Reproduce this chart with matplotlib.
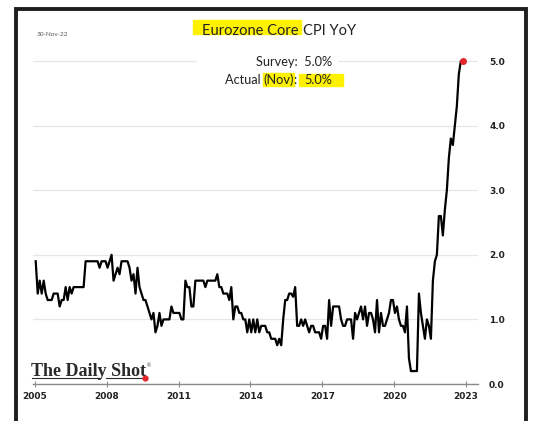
import matplotlib
matplotlib.use('Agg')
import matplotlib.pyplot as plt
from matplotlib.patches import Rectangle
from matplotlib.lines import Line2D
import numpy as np

# Eurozone core CPI YoY, monthly, Jan-2005 .. Nov-2022
y2005 = [1.9, 1.4, 1.6, 1.4, 1.6, 1.4, 1.3, 1.3, 1.3, 1.4, 1.4, 1.4]
y2006 = [1.2, 1.3, 1.3, 1.5, 1.3, 1.5, 1.4, 1.5, 1.5, 1.5, 1.5, 1.5]
y2007 = [1.5, 1.9, 1.9, 1.9, 1.9, 1.9, 1.9, 1.9, 1.8, 1.9, 1.9, 1.9]
y2008 = [1.8, 1.9, 2.0, 1.6, 1.7, 1.8, 1.7, 1.9, 1.9, 1.9, 1.9, 1.8]
y2009 = [1.6, 1.7, 1.4, 1.8, 1.5, 1.4, 1.3, 1.3, 1.2, 1.1, 1.0, 1.1]
y2010 = [0.8, 0.9, 1.1, 0.9, 1.0, 1.0, 1.0, 1.0, 1.2, 1.1, 1.1, 1.1]
y2011 = [1.1, 1.0, 1.0, 1.6, 1.5, 1.5, 1.2, 1.2, 1.6, 1.6, 1.6, 1.6]
y2012 = [1.6, 1.5, 1.6, 1.6, 1.6, 1.6, 1.6, 1.7, 1.5, 1.5, 1.4, 1.4]
y2013 = [1.4, 1.3, 1.5, 1.0, 1.2, 1.2, 1.1, 1.1, 1.0, 1.0, 0.8, 1.0]
y2014 = [0.8, 1.0, 0.8, 1.0, 0.8, 0.9, 0.9, 0.9, 0.8, 0.8, 0.7, 0.7]
y2015 = [0.7, 0.6, 0.7, 0.6, 1.0, 1.3, 1.3, 1.4, 1.4, 1.35, 1.5, 0.9]
y2016 = [0.9, 1.0, 0.9, 1.0, 0.9, 0.8, 0.9, 0.9, 0.8, 0.8, 0.8, 0.7]
y2017 = [0.9, 0.9, 0.7, 1.3, 0.9, 1.2, 1.2, 1.2, 1.2, 1.0, 0.9, 0.9]
y2018 = [1.0, 1.0, 1.0, 0.7, 1.1, 1.0, 1.1, 1.2, 1.0, 1.2, 0.9, 1.1]
y2019 = [1.1, 1.0, 0.8, 1.3, 0.8, 1.1, 0.9, 0.9, 1.0, 1.1, 1.3, 1.3]
y2020 = [1.1, 1.2, 1.0, 0.9, 0.9, 0.8, 1.2, 0.4, 0.2, 0.2, 0.2, 0.2]
y2021 = [1.4, 1.1, 0.9, 0.7, 1.0, 0.9, 0.7, 1.6, 1.9, 2.0, 2.6, 2.6]
y2022 = [2.3, 2.7, 3.0, 3.5, 3.8, 3.7, 4.0, 4.3, 4.8, 5.0, 5.0]

core_cpi = (y2005 + y2006 + y2007 + y2008 + y2009 + y2010 + y2011 + y2012 + y2013
            + y2014 + y2015 + y2016 + y2017 + y2018 + y2019 + y2020 + y2021 + y2022)
start_year = 2005
year_ticks = [2005, 2008, 2011, 2014, 2017, 2020, 2023]
value_ticks = [0.0, 1.0, 2.0, 3.0, 4.0, 5.0]

x = start_year + (np.arange(len(core_cpi)) + 0.4) / 12.0

W, H = 535, 421
SANS = ['Lato', 'DejaVu Sans']
SERIF = ['Liberation Serif', 'DejaVu Serif']
YELLOW = '#fff200'


def fx(px):
    return px / W


def fy(py):
    return 1 - py / H


fig = plt.figure(figsize=(W / 100, H / 100), dpi=100)
fig.patch.set_facecolor('white')
renderer = fig.canvas.get_renderer()


def text_w(s, **kw):
    # width in pixels of a string
    t = fig.text(0, 0, s, **kw)
    w = t.get_window_extent(renderer).width
    t.remove()
    return w


ax = fig.add_axes([fx(33), fy(384), (478 - 33) / W, (384 - 38.4) / H])
ax.plot(x, core_cpi, color='black', lw=1.6, zorder=3)
ax.plot(x[-1], core_cpi[-1], 'o', color='#e3262b', ms=4, zorder=4)

ax.set_xlim(2004.92, 2023.5)
ax.set_ylim(0, 5.35)
for s in ['top', 'left', 'right']:
    ax.spines[s].set_visible(False)
ax.spines['bottom'].set_color('#8a8a8a')
ax.spines['bottom'].set_linewidth(1.0)

ax.set_xticks(year_ticks)
ax.set_xticklabels([str(t) for t in year_ticks], fontweight='bold')
ax.tick_params(axis='x', direction='inout', length=5, width=0.8, color='#8a8a8a',
               pad=3.5, labelsize=6.5, labelcolor='#222222')

ax.yaxis.tick_right()
ax.set_yticks(value_ticks)
ax.set_yticklabels(['%.1f' % v for v in value_ticks], fontweight='bold')
ax.tick_params(axis='y', length=0, pad=8, labelsize=6.5, labelcolor='#222222')
ax.grid(axis='y', color='#e6e6e6', lw=0.9)
ax.set_axisbelow(True)

# outer frame
fig.add_artist(Rectangle((fx(16), fy(440)), (526 - 16) / W, (440 - 8.5) / H,
                         transform=fig.transFigure, fill=False, edgecolor='#1e1e1e',
                         lw=2.8, clip_on=False, zorder=10))

# title with highlight on the first part
title_kw = dict(fontsize=10.5, family=SANS, color='#222222')
fig.add_artist(Rectangle((fx(193), fy(34)), (301 - 193) / W, 14 / H,
                         transform=fig.transFigure, color=YELLOW, zorder=3))
fig.text(fx(298), fy(31), 'Eurozone Core', ha='right', va='center', zorder=5, **title_kw)
fig.text(fx(303), fy(31), 'CPI YoY', ha='left', va='center', zorder=5, **title_kw)

fig.text(fx(37), fy(34), '30-Nov-22', ha='left', va='center', fontsize=4.6,
         family=SANS, color='#555555')

# survey / actual box, gridline hidden behind it
fig.add_artist(Rectangle((fx(197), fy(90)), (337 - 197) / W, 38 / H,
                         transform=fig.transFigure, color='white', zorder=2))
note_kw = dict(fontsize=9.2, family=SANS, color='#222222')
right_edge = 332
fig.text(fx(right_edge), fy(62), 'Survey:  5.0%', ha='right', va='center', zorder=5, **note_kw)

pieces = ['Actual ', '(Nov)', ':  ', '5.0%']
widths = [text_w(p, **note_kw) for p in pieces]
xpos = right_edge - sum(widths)
starts = []
for p, w in zip(pieces, widths):
    starts.append(xpos)
    fig.text(fx(xpos), fy(80), p, ha='left', va='center', zorder=5, **note_kw)
    xpos += w
fig.add_artist(Rectangle((fx(starts[1] - 1), fy(86)), (widths[1] + 1) / W, 13 / H,
                         transform=fig.transFigure, color=YELLOW, zorder=3))
fig.add_artist(Rectangle((fx(starts[3] - 5), fy(86)), (343 - starts[3] + 5) / W, 12 / H,
                         transform=fig.transFigure, color=YELLOW, zorder=3))

# logo
logo_kw = dict(fontsize=13, family=SERIF, fontweight='bold', color='#2a2a2a')
logo_x = 31
fig.text(fx(logo_x), fy(375.5), 'The Daily Shot', ha='left', va='baseline', **logo_kw)
w_daily = text_w('The Daily', **logo_kw)
w_all = text_w('The Daily Shot', **logo_kw)
fig.text(fx(logo_x + w_all + 1), fy(366), '\u00ae', ha='left', va='center', fontsize=4,
         family=SERIF, color='#2a2a2a')
for x0, x1 in [(logo_x + 1, logo_x + w_daily - 7), (logo_x + w_daily - 1, logo_x + w_all - 2)]:
    fig.add_artist(Line2D([fx(x0), fx(x1)], [fy(378), fy(378)], transform=fig.transFigure,
                          color='#2a2a2a', lw=0.8))
fig.add_artist(Line2D([fx(logo_x + w_all - 1)], [fy(378)], transform=fig.transFigure,
                      marker='o', ms=3.5, color='#e3262b', lw=0))

fig.savefig('out.png', dpi=100)
